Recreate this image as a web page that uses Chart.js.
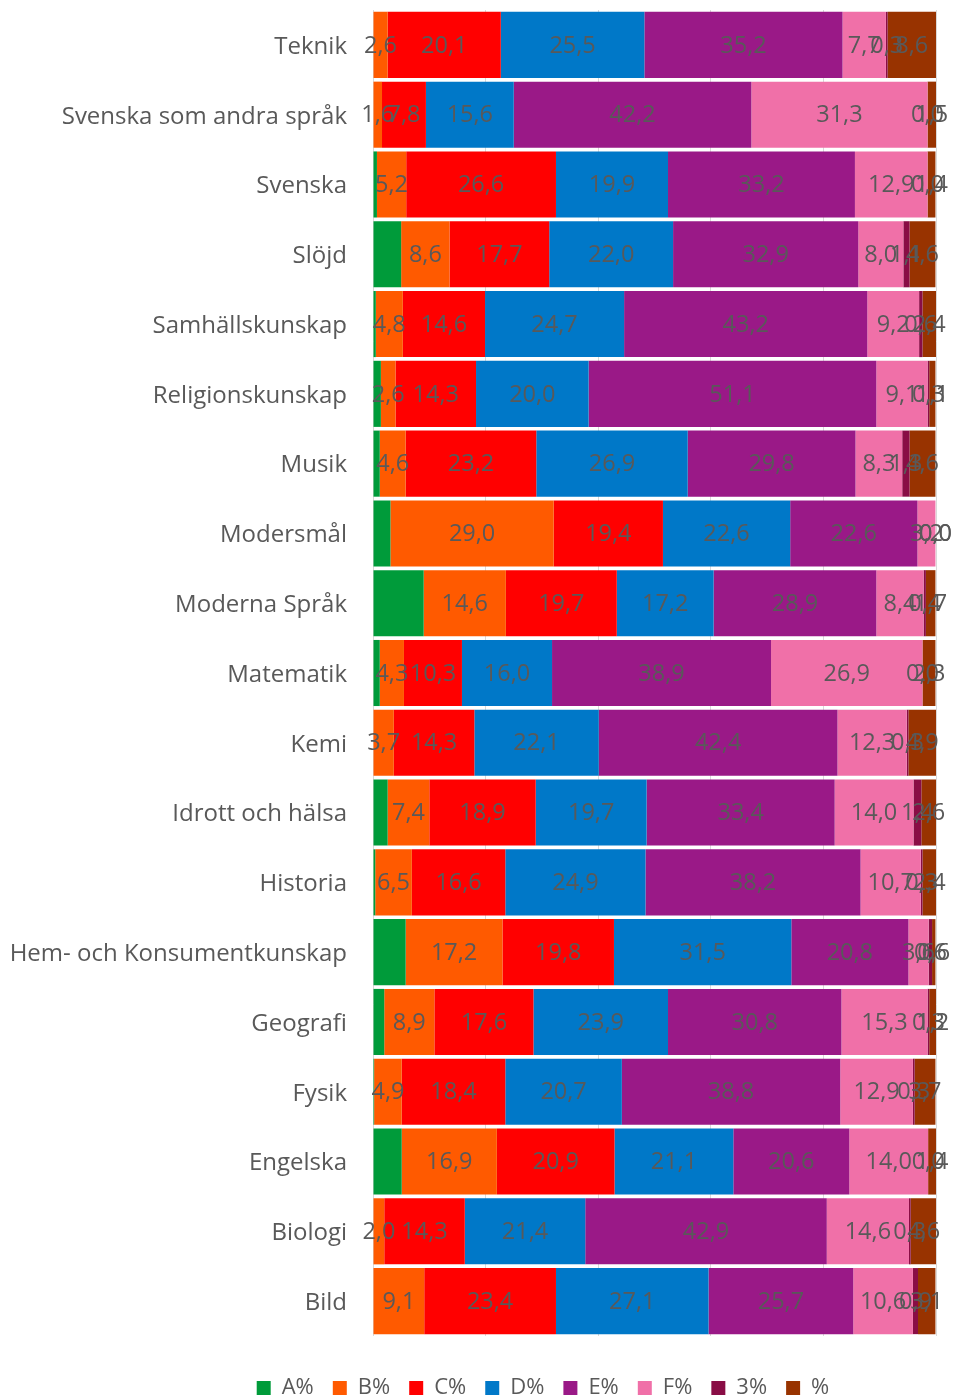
<!DOCTYPE html>
<html>
<head>
<meta charset="utf-8">
<script src="https://cdn.jsdelivr.net/npm/chart.js@4.4.1/dist/chart.umd.min.js"></script>
<style>
  html, body { margin: 0; padding: 0; background: #fff; }
  #wrap { width: 954px; height: 1398px; position: relative; }
</style>
</head>
<body>
<div id="wrap"><canvas id="betygChart"></canvas></div>
<script>
// Ämnen (uppifrån och ned)
const subjects = ['Teknik', 'Svenska som andra språk', 'Svenska', 'Slöjd', 'Samhällskunskap',
  'Religionskunskap', 'Musik', 'Modersmål', 'Moderna Språk', 'Matematik', 'Kemi',
  'Idrott och hälsa', 'Historia', 'Hem- och Konsumentkunskap', 'Geografi', 'Fysik',
  'Engelska', 'Biologi', 'Bild'];

const seriesNames = ['A%', 'B%', 'C%', 'D%', 'E%', 'F%', '3%', '%'];

// Andel per betyg, i procent
const aPct = [0, 0, 0.7, 5.0, 0.5, 1.4, 1.2, 3.1, 9.0, 1.2, 0, 2.6, 0.4, 5.8, 2.0, 0.2, 5.1, 0, 0];
const bPct = [2.6, 1.6, 5.2, 8.6, 4.8, 2.6, 4.6, 29.0, 14.6, 4.3, 3.7, 7.4, 6.5, 17.2, 8.9, 4.9, 16.9, 2.0, 9.1];
const cPct = [20.1, 7.8, 26.6, 17.7, 14.6, 14.3, 23.2, 19.4, 19.7, 10.3, 14.3, 18.9, 16.6, 19.8, 17.6, 18.4, 20.9, 14.3, 23.4];
const dPct = [25.5, 15.6, 19.9, 22.0, 24.7, 20.0, 26.9, 22.6, 17.2, 16.0, 22.1, 19.7, 24.9, 31.5, 23.9, 20.7, 21.1, 21.4, 27.1];
const ePct = [35.2, 42.2, 33.2, 32.9, 43.2, 51.1, 29.8, 22.6, 28.9, 38.9, 42.4, 33.4, 38.2, 20.8, 30.8, 38.8, 20.6, 42.9, 25.7];
const fPct = [7.7, 31.3, 12.9, 8.0, 9.2, 9.1, 8.3, 3.2, 8.4, 26.9, 12.3, 14.0, 10.7, 3.6, 15.3, 12.9, 14.0, 14.6, 10.6];
const pct3 = [0.3, 0.0, 0.0, 1.1, 0.6, 0.3, 1.3, 0.0, 0.4, 0.0, 0.3, 1.4, 0.3, 0.6, 0.3, 0.3, 0.0, 0.3, 0.9];
const pctBlank = [8.6, 1.5, 1.4, 4.6, 2.4, 1.1, 4.6, 0.0, 1.7, 2.3, 4.9, 2.6, 2.4, 0.6, 1.2, 3.7, 1.4, 4.6, 3.1];

const seriesColors = ['#009B3A', '#FF5A00', '#FF0000', '#0078C8', '#9A1987', '#F070A8', '#890D45', '#983300'];
const allSeries = [aPct, bPct, cPct, dPct, ePct, fPct, pct3, pctBlank];

const textGrey = '#595959';
const fontFamily = '"Open Sans", "Noto Sans", sans-serif';

// Värdeetiketter mitt i varje segment (inte för A%)
const valueLabels = {
  id: 'valueLabels',
  afterDatasetsDraw(chart) {
    const ctx = chart.ctx;
    ctx.save();
    ctx.font = '23.5px ' + fontFamily;
    ctx.fillStyle = textGrey;
    ctx.textAlign = 'center';
    ctx.textBaseline = 'middle';
    chart.data.datasets.forEach((ds, di) => {
      if (di === 0) return;
      const meta = chart.getDatasetMeta(di);
      meta.data.forEach((bar, i) => {
        const p = bar.getCenterPoint();
        ctx.fillText(ds.data[i].toFixed(1).replace('.', ','), p.x, p.y + 1);
      });
    });
    ctx.restore();
  }
};

// Flytta legenden lite åt höger och ned, som i originalet
const legendShift = {
  id: 'legendShift',
  afterLayout(chart) {
    const lg = chart.legend;
    lg.left += 75; lg.right += 75;
    lg.top += 22; lg.bottom += 22;
  }
};

const datasets = allSeries.map((values, i) => ({
  label: seriesNames[i],
  data: values,
  backgroundColor: seriesColors[i],
  borderWidth: 0,
  categoryPercentage: 0.947,
  barPercentage: 1
}));

new Chart(document.getElementById('betygChart'), {
  type: 'bar',
  data: { labels: subjects, datasets: datasets },
  plugins: [valueLabels, legendShift],
  options: {
    indexAxis: 'y',
    responsive: true,
    maintainAspectRatio: false,
    animation: false,
    layout: { padding: { top: 10, right: 18, bottom: 11, left: 0 } },
    plugins: {
      legend: {
        position: 'bottom',
        labels: {
          boxWidth: 14,
          boxHeight: 14,
          padding: 19,
          color: textGrey,
          font: { family: fontFamily, size: 22 }
        }
      },
      tooltip: { enabled: false }
    },
    scales: {
      x: {
        stacked: true,
        min: 0,
        max: 100,
        ticks: { display: false, stepSize: 20 },
        grid: { color: '#d9d9d9', drawTicks: false },
        border: { display: false }
      },
      y: {
        stacked: true,
        afterFit: (scale) => {
          scale.width = 373;
          scale.paddingTop = 0;
          scale.paddingBottom = 0;
        },
        ticks: {
          padding: 26,
          labelOffset: 2,
          color: textGrey,
          font: { family: fontFamily, size: 24 }
        },
        grid: { display: false, drawTicks: false },
        border: { display: false }
      }
    }
  }
});
</script>
</body>
</html>
